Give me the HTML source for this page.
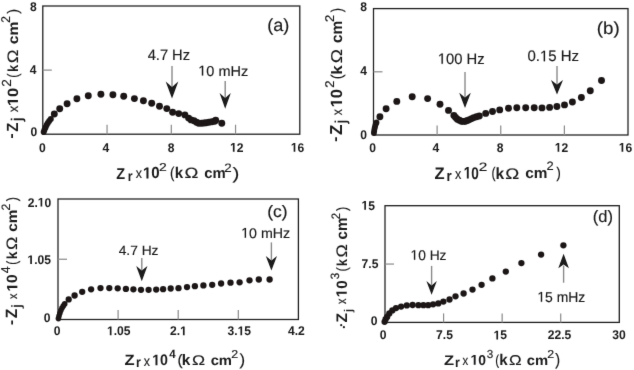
<!DOCTYPE html>
<html><head><meta charset="utf-8"><style>
html,body{margin:0;padding:0;background:#fff;overflow:hidden;}
svg{display:block;}
text{font-family:"Liberation Sans",sans-serif;text-rendering:geometricPrecision;}
</style></head><body>
<svg width="634" height="370" viewBox="0 0 634 370">
<defs><filter id="bl" x="0" y="0" width="100%" height="100%" filterUnits="userSpaceOnUse"><feConvolveMatrix order="3" kernelMatrix="0.0052 0.0619 0.0052 0.0619 0.7314 0.0619 0.0052 0.0619 0.0052" edgeMode="duplicate" preserveAlpha="false"/></filter></defs><rect width="634" height="370" fill="#fff"/>
<g filter="url(#bl)">
<rect x="42.80" y="6.00" width="257.00" height="128.20" fill="none" stroke="#222222" stroke-width="1.30"/>
<line x1="107.05" y1="134.20" x2="107.05" y2="124.70" stroke="#8a8a8a" stroke-width="1.20"/>
<line x1="171.30" y1="134.20" x2="171.30" y2="124.70" stroke="#8a8a8a" stroke-width="1.20"/>
<line x1="235.55" y1="134.20" x2="235.55" y2="124.70" stroke="#8a8a8a" stroke-width="1.20"/>
<line x1="42.80" y1="70.10" x2="51.80" y2="70.10" stroke="#8a8a8a" stroke-width="1.20"/>
<text transform="translate(29.94 10.95) scale(0.960 1)" font-size="12.60" font-weight="bold" fill="#1a1a1a">8</text>
<text transform="translate(29.78 73.88) scale(0.960 1)" font-size="12.60" font-weight="bold" fill="#1a1a1a">4</text>
<text transform="translate(30.44 135.55) scale(0.960 1)" font-size="12.60" font-weight="bold" fill="#1a1a1a">0</text>
<text transform="translate(38.94 151.65) scale(0.960 1)" font-size="12.60" font-weight="bold" fill="#1a1a1a">0</text>
<text transform="translate(102.58 151.78) scale(0.960 1)" font-size="12.60" font-weight="bold" fill="#1a1a1a">4</text>
<text transform="translate(167.64 151.65) scale(0.960 1)" font-size="12.60" font-weight="bold" fill="#1a1a1a">8</text>
<text transform="translate(230.07 151.78) scale(0.960 1)" font-size="12.60" font-weight="bold" fill="#1a1a1a"> 2</text>
<path transform="translate(230.07 151.78) scale(0.960 1) translate(0.000 0) scale(0.00615 -0.00615)" d="M478 0L478 1170L140 959L140 1180L493 1409L759 1409L759 0Z" fill="#1a1a1a"/>
<text transform="translate(290.84 151.65) scale(0.960 1)" font-size="12.60" font-weight="bold" fill="#1a1a1a"> 6</text>
<path transform="translate(290.84 151.65) scale(0.960 1) translate(0.000 0) scale(0.00615 -0.00615)" d="M478 0L478 1170L140 959L140 1180L493 1409L759 1409L759 0Z" fill="#1a1a1a"/>
<circle cx="43.7" cy="132.0" r="3.00" fill="#1b1818"/>
<circle cx="44.5" cy="129.7" r="3.00" fill="#1b1818"/>
<circle cx="45.5" cy="127.4" r="3.00" fill="#1b1818"/>
<circle cx="46.6" cy="125.1" r="3.00" fill="#1b1818"/>
<circle cx="47.8" cy="122.9" r="3.00" fill="#1b1818"/>
<circle cx="49.2" cy="120.9" r="3.00" fill="#1b1818"/>
<circle cx="50.8" cy="118.9" r="3.00" fill="#1b1818"/>
<circle cx="54.3" cy="114.0" r="3.45" fill="#1b1818"/>
<circle cx="59.7" cy="108.8" r="3.45" fill="#1b1818"/>
<circle cx="67.1" cy="103.7" r="3.45" fill="#1b1818"/>
<circle cx="76.9" cy="98.8" r="3.45" fill="#1b1818"/>
<circle cx="88.3" cy="95.8" r="3.45" fill="#1b1818"/>
<circle cx="100.9" cy="94.3" r="3.45" fill="#1b1818"/>
<circle cx="112.9" cy="94.7" r="3.45" fill="#1b1818"/>
<circle cx="123.7" cy="96.2" r="3.45" fill="#1b1818"/>
<circle cx="134.4" cy="98.6" r="3.45" fill="#1b1818"/>
<circle cx="143.4" cy="100.7" r="3.45" fill="#1b1818"/>
<circle cx="151.7" cy="103.2" r="3.45" fill="#1b1818"/>
<circle cx="159.5" cy="106.2" r="3.45" fill="#1b1818"/>
<circle cx="166.8" cy="108.6" r="3.45" fill="#1b1818"/>
<circle cx="172.6" cy="112.2" r="3.45" fill="#1b1818"/>
<circle cx="178.7" cy="113.6" r="3.45" fill="#1b1818"/>
<circle cx="184.9" cy="114.9" r="3.45" fill="#1b1818"/>
<circle cx="188.6" cy="118.1" r="3.45" fill="#1b1818"/>
<circle cx="191.1" cy="119.9" r="3.45" fill="#1b1818"/>
<circle cx="194.0" cy="120.8" r="3.45" fill="#1b1818"/>
<circle cx="196.5" cy="122.3" r="3.45" fill="#1b1818"/>
<circle cx="198.7" cy="123.2" r="3.45" fill="#1b1818"/>
<circle cx="201.5" cy="123.3" r="3.45" fill="#1b1818"/>
<circle cx="204.0" cy="123.0" r="3.45" fill="#1b1818"/>
<circle cx="206.2" cy="122.7" r="3.45" fill="#1b1818"/>
<circle cx="209.0" cy="122.3" r="3.45" fill="#1b1818"/>
<circle cx="212.0" cy="121.8" r="3.45" fill="#1b1818"/>
<circle cx="214.7" cy="121.3" r="3.45" fill="#1b1818"/>
<circle cx="215.7" cy="120.3" r="3.45" fill="#1b1818"/>
<circle cx="221.8" cy="123.2" r="3.45" fill="#1b1818"/>
<line x1="172.00" y1="66.00" x2="172.00" y2="87.00" stroke="#8a8a8a" stroke-width="1.40"/>
<path d="M172.00 98.40 L165.70 81.50 L172.00 87.00 L178.30 81.50 Z" fill="#1a1a1a"/>
<line x1="225.20" y1="81.00" x2="225.20" y2="98.00" stroke="#8a8a8a" stroke-width="1.40"/>
<path d="M225.20 108.70 L219.60 93.00 L225.20 98.00 L230.80 93.00 Z" fill="#1a1a1a"/>
<text transform="translate(147.63 60.18) scale(0.979 1)" font-size="15.01" font-weight="normal" fill="#1a1a1a" stroke="#1a1a1a" stroke-width="0.15">4.7 Hz</text>
<text transform="translate(198.23 75.54) scale(1.016 1)" font-size="14.31" font-weight="normal" fill="#1a1a1a" stroke="#1a1a1a" stroke-width="0.15"> 0 mHz</text>
<path transform="translate(198.23 75.54) scale(1.016 1) translate(0.000 0) scale(0.00699 -0.00699)" d="M515 0L515 1237L197 1010L197 1180L530 1409L696 1409L696 0Z" fill="#1a1a1a" stroke="#1a1a1a" stroke-width="21.5" stroke-linejoin="round"/>
<text transform="translate(267.13 30.51) scale(1.037 1)" font-size="17.50" font-weight="normal" fill="#1a1a1a" stroke="#1a1a1a" stroke-width="0.15">(a)</text>
<rect x="373.50" y="8.60" width="254.50" height="126.40" fill="none" stroke="#222222" stroke-width="1.30"/>
<line x1="437.12" y1="135.00" x2="437.12" y2="125.50" stroke="#8a8a8a" stroke-width="1.20"/>
<line x1="500.75" y1="135.00" x2="500.75" y2="125.50" stroke="#8a8a8a" stroke-width="1.20"/>
<line x1="564.38" y1="135.00" x2="564.38" y2="125.50" stroke="#8a8a8a" stroke-width="1.20"/>
<line x1="373.50" y1="71.80" x2="382.50" y2="71.80" stroke="#8a8a8a" stroke-width="1.20"/>
<text transform="translate(360.24 10.55) scale(0.960 1)" font-size="12.60" font-weight="bold" fill="#1a1a1a">8</text>
<text transform="translate(360.18 75.28) scale(0.960 1)" font-size="12.60" font-weight="bold" fill="#1a1a1a">4</text>
<text transform="translate(360.24 138.65) scale(0.960 1)" font-size="12.60" font-weight="bold" fill="#1a1a1a">0</text>
<text transform="translate(369.14 151.65) scale(0.960 1)" font-size="12.60" font-weight="bold" fill="#1a1a1a">0</text>
<text transform="translate(432.58 151.78) scale(0.960 1)" font-size="12.60" font-weight="bold" fill="#1a1a1a">4</text>
<text transform="translate(496.74 151.65) scale(0.960 1)" font-size="12.60" font-weight="bold" fill="#1a1a1a">8</text>
<text transform="translate(554.77 151.78) scale(0.960 1)" font-size="12.60" font-weight="bold" fill="#1a1a1a"> 2</text>
<path transform="translate(554.77 151.78) scale(0.960 1) translate(0.000 0) scale(0.00615 -0.00615)" d="M478 0L478 1170L140 959L140 1180L493 1409L759 1409L759 0Z" fill="#1a1a1a"/>
<text transform="translate(618.74 151.65) scale(0.960 1)" font-size="12.60" font-weight="bold" fill="#1a1a1a"> 6</text>
<path transform="translate(618.74 151.65) scale(0.960 1) translate(0.000 0) scale(0.00615 -0.00615)" d="M478 0L478 1170L140 959L140 1180L493 1409L759 1409L759 0Z" fill="#1a1a1a"/>
<circle cx="373.9" cy="133.0" r="2.90" fill="#1b1818"/>
<circle cx="374.2" cy="130.7" r="2.90" fill="#1b1818"/>
<circle cx="374.6" cy="128.4" r="2.90" fill="#1b1818"/>
<circle cx="375.1" cy="126.3" r="2.90" fill="#1b1818"/>
<circle cx="375.7" cy="124.3" r="2.90" fill="#1b1818"/>
<circle cx="376.5" cy="122.5" r="2.90" fill="#1b1818"/>
<circle cx="379.9" cy="116.8" r="3.45" fill="#1b1818"/>
<circle cx="386.1" cy="108.7" r="3.45" fill="#1b1818"/>
<circle cx="396.8" cy="101.4" r="3.45" fill="#1b1818"/>
<circle cx="412.2" cy="96.8" r="3.45" fill="#1b1818"/>
<circle cx="427.6" cy="98.6" r="3.45" fill="#1b1818"/>
<circle cx="440.0" cy="104.3" r="3.45" fill="#1b1818"/>
<circle cx="448.5" cy="110.4" r="3.45" fill="#1b1818"/>
<circle cx="453.9" cy="115.4" r="3.45" fill="#1b1818"/>
<circle cx="455.6" cy="117.4" r="3.45" fill="#1b1818"/>
<circle cx="457.3" cy="119.2" r="3.45" fill="#1b1818"/>
<circle cx="459.3" cy="120.3" r="3.45" fill="#1b1818"/>
<circle cx="461.4" cy="121.2" r="3.45" fill="#1b1818"/>
<circle cx="463.4" cy="121.4" r="3.45" fill="#1b1818"/>
<circle cx="465.4" cy="121.2" r="3.45" fill="#1b1818"/>
<circle cx="467.5" cy="120.5" r="3.45" fill="#1b1818"/>
<circle cx="469.5" cy="119.6" r="3.45" fill="#1b1818"/>
<circle cx="471.7" cy="118.6" r="3.45" fill="#1b1818"/>
<circle cx="473.8" cy="117.6" r="3.45" fill="#1b1818"/>
<circle cx="476.5" cy="116.8" r="3.45" fill="#1b1818"/>
<circle cx="479.3" cy="116.0" r="3.45" fill="#1b1818"/>
<circle cx="485.7" cy="113.4" r="3.45" fill="#1b1818"/>
<circle cx="492.5" cy="111.5" r="3.45" fill="#1b1818"/>
<circle cx="499.7" cy="109.9" r="3.45" fill="#1b1818"/>
<circle cx="508.5" cy="108.2" r="3.45" fill="#1b1818"/>
<circle cx="516.8" cy="107.7" r="3.45" fill="#1b1818"/>
<circle cx="525.7" cy="107.7" r="3.45" fill="#1b1818"/>
<circle cx="534.2" cy="107.7" r="3.45" fill="#1b1818"/>
<circle cx="542.0" cy="107.9" r="3.45" fill="#1b1818"/>
<circle cx="549.6" cy="107.4" r="3.45" fill="#1b1818"/>
<circle cx="556.9" cy="106.5" r="3.45" fill="#1b1818"/>
<circle cx="564.5" cy="104.9" r="3.45" fill="#1b1818"/>
<circle cx="572.4" cy="102.0" r="3.45" fill="#1b1818"/>
<circle cx="581.4" cy="97.5" r="3.45" fill="#1b1818"/>
<circle cx="590.3" cy="90.7" r="3.45" fill="#1b1818"/>
<circle cx="601.5" cy="80.5" r="3.45" fill="#1b1818"/>
<line x1="465.00" y1="72.00" x2="465.00" y2="97.50" stroke="#8a8a8a" stroke-width="1.40"/>
<path d="M465.00 108.00 L459.20 92.80 L465.00 97.50 L470.80 92.80 Z" fill="#1a1a1a"/>
<line x1="557.00" y1="66.00" x2="557.00" y2="84.50" stroke="#8a8a8a" stroke-width="1.40"/>
<path d="M557.00 94.60 L551.00 80.00 L557.00 84.50 L563.00 80.00 Z" fill="#1a1a1a"/>
<text transform="translate(437.81 63.83) scale(0.986 1)" font-size="15.01" font-weight="normal" fill="#1a1a1a" stroke="#1a1a1a" stroke-width="0.15"> 00 Hz</text>
<path transform="translate(437.81 63.83) scale(0.986 1) translate(0.000 0) scale(0.00733 -0.00733)" d="M515 0L515 1237L197 1010L197 1180L530 1409L696 1409L696 0Z" fill="#1a1a1a" stroke="#1a1a1a" stroke-width="20.5" stroke-linejoin="round"/>
<text transform="translate(527.42 61.23) scale(0.990 1)" font-size="15.15" font-weight="normal" fill="#1a1a1a" stroke="#1a1a1a" stroke-width="0.15">0. 5 Hz</text>
<path transform="translate(527.42 61.23) scale(0.990 1) translate(12.639 0) scale(0.00740 -0.00740)" d="M515 0L515 1237L197 1010L197 1180L530 1409L696 1409L696 0Z" fill="#1a1a1a" stroke="#1a1a1a" stroke-width="20.3" stroke-linejoin="round"/>
<text transform="translate(596.80 33.63) scale(1.075 1)" font-size="17.39" font-weight="normal" fill="#1a1a1a" stroke="#1a1a1a" stroke-width="0.15">(b)</text>
<rect x="58.00" y="199.00" width="240.40" height="120.50" fill="none" stroke="#222222" stroke-width="1.30"/>
<line x1="118.10" y1="319.50" x2="118.10" y2="310.00" stroke="#8a8a8a" stroke-width="1.20"/>
<line x1="178.20" y1="319.50" x2="178.20" y2="310.00" stroke="#8a8a8a" stroke-width="1.20"/>
<line x1="238.30" y1="319.50" x2="238.30" y2="310.00" stroke="#8a8a8a" stroke-width="1.20"/>
<line x1="58.00" y1="259.25" x2="67.00" y2="259.25" stroke="#8a8a8a" stroke-width="1.20"/>
<text transform="translate(27.67 206.55) scale(0.960 1)" font-size="12.60" font-weight="bold" fill="#1a1a1a">2. 0</text>
<path transform="translate(27.67 206.55) scale(0.960 1) translate(10.508 0) scale(0.00615 -0.00615)" d="M478 0L478 1170L140 959L140 1180L493 1409L759 1409L759 0Z" fill="#1a1a1a"/>
<text transform="translate(27.42 264.05) scale(0.960 1)" font-size="12.60" font-weight="bold" fill="#1a1a1a"> .05</text>
<path transform="translate(27.42 264.05) scale(0.960 1) translate(0.000 0) scale(0.00615 -0.00615)" d="M478 0L478 1170L140 959L140 1180L493 1409L759 1409L759 0Z" fill="#1a1a1a"/>
<text transform="translate(43.84 322.05) scale(0.960 1)" font-size="12.60" font-weight="bold" fill="#1a1a1a">0</text>
<text transform="translate(53.64 335.15) scale(0.960 1)" font-size="12.60" font-weight="bold" fill="#1a1a1a">0</text>
<text transform="translate(107.02 335.15) scale(0.960 1)" font-size="12.60" font-weight="bold" fill="#1a1a1a"> .05</text>
<path transform="translate(107.02 335.15) scale(0.960 1) translate(0.000 0) scale(0.00615 -0.00615)" d="M478 0L478 1170L140 959L140 1180L493 1409L759 1409L759 0Z" fill="#1a1a1a"/>
<text transform="translate(170.03 335.28) scale(0.960 1)" font-size="12.60" font-weight="bold" fill="#1a1a1a">2. </text>
<path transform="translate(170.03 335.28) scale(0.960 1) translate(10.508 0) scale(0.00615 -0.00615)" d="M478 0L478 1170L140 959L140 1180L493 1409L759 1409L759 0Z" fill="#1a1a1a"/>
<text transform="translate(227.54 335.15) scale(0.960 1)" font-size="12.60" font-weight="bold" fill="#1a1a1a">3. 5</text>
<path transform="translate(227.54 335.15) scale(0.960 1) translate(10.508 0) scale(0.00615 -0.00615)" d="M478 0L478 1170L140 959L140 1180L493 1409L759 1409L759 0Z" fill="#1a1a1a"/>
<text transform="translate(287.94 335.28) scale(0.960 1)" font-size="12.60" font-weight="bold" fill="#1a1a1a">4.2</text>
<circle cx="58.4" cy="318.6" r="2.80" fill="#1b1818"/>
<circle cx="59.0" cy="316.0" r="2.80" fill="#1b1818"/>
<circle cx="59.8" cy="313.3" r="2.80" fill="#1b1818"/>
<circle cx="60.8" cy="310.6" r="2.80" fill="#1b1818"/>
<circle cx="62.0" cy="308.1" r="2.80" fill="#1b1818"/>
<circle cx="63.3" cy="305.9" r="2.80" fill="#1b1818"/>
<circle cx="64.7" cy="303.9" r="2.80" fill="#1b1818"/>
<circle cx="68.7" cy="299.4" r="3.15" fill="#1b1818"/>
<circle cx="74.6" cy="295.5" r="3.15" fill="#1b1818"/>
<circle cx="82.2" cy="291.8" r="3.15" fill="#1b1818"/>
<circle cx="91.1" cy="289.3" r="3.15" fill="#1b1818"/>
<circle cx="100.5" cy="288.1" r="3.15" fill="#1b1818"/>
<circle cx="109.3" cy="288.1" r="3.15" fill="#1b1818"/>
<circle cx="117.7" cy="288.3" r="3.15" fill="#1b1818"/>
<circle cx="125.9" cy="288.9" r="3.15" fill="#1b1818"/>
<circle cx="133.4" cy="289.3" r="3.15" fill="#1b1818"/>
<circle cx="141.0" cy="289.8" r="3.15" fill="#1b1818"/>
<circle cx="148.6" cy="289.8" r="3.15" fill="#1b1818"/>
<circle cx="156.2" cy="289.6" r="3.15" fill="#1b1818"/>
<circle cx="163.1" cy="289.2" r="3.15" fill="#1b1818"/>
<circle cx="170.7" cy="288.5" r="3.15" fill="#1b1818"/>
<circle cx="178.5" cy="288.2" r="3.15" fill="#1b1818"/>
<circle cx="187.0" cy="287.1" r="3.15" fill="#1b1818"/>
<circle cx="194.9" cy="286.2" r="3.15" fill="#1b1818"/>
<circle cx="203.4" cy="285.4" r="3.15" fill="#1b1818"/>
<circle cx="212.2" cy="284.8" r="3.15" fill="#1b1818"/>
<circle cx="221.1" cy="283.5" r="3.15" fill="#1b1818"/>
<circle cx="230.5" cy="282.7" r="3.15" fill="#1b1818"/>
<circle cx="239.6" cy="282.3" r="3.15" fill="#1b1818"/>
<circle cx="249.5" cy="280.3" r="3.15" fill="#1b1818"/>
<circle cx="258.8" cy="279.5" r="3.15" fill="#1b1818"/>
<circle cx="269.6" cy="279.5" r="3.15" fill="#1b1818"/>
<line x1="141.80" y1="258.00" x2="141.80" y2="270.50" stroke="#8a8a8a" stroke-width="1.40"/>
<path d="M141.80 281.20 L136.20 266.10 L141.80 270.50 L147.40 266.10 Z" fill="#1a1a1a"/>
<line x1="271.40" y1="242.40" x2="271.40" y2="260.50" stroke="#8a8a8a" stroke-width="1.40"/>
<path d="M271.40 270.60 L265.80 255.90 L271.40 260.50 L277.00 255.90 Z" fill="#1a1a1a"/>
<text transform="translate(118.64 255.18) scale(1.029 1)" font-size="13.42" font-weight="normal" fill="#1a1a1a" stroke="#1a1a1a" stroke-width="0.15">4.7 Hz</text>
<text transform="translate(241.15 237.64) scale(1.015 1)" font-size="14.03" font-weight="normal" fill="#1a1a1a" stroke="#1a1a1a" stroke-width="0.15"> 0 mHz</text>
<path transform="translate(241.15 237.64) scale(1.015 1) translate(0.000 0) scale(0.00685 -0.00685)" d="M515 0L515 1237L197 1010L197 1180L530 1409L696 1409L696 0Z" fill="#1a1a1a" stroke="#1a1a1a" stroke-width="21.9" stroke-linejoin="round"/>
<text transform="translate(267.27 216.93) scale(1.064 1)" font-size="16.43" font-weight="normal" fill="#1a1a1a" stroke="#1a1a1a" stroke-width="0.15">(c)</text>
<rect x="385.00" y="205.70" width="234.30" height="116.70" fill="none" stroke="#222222" stroke-width="1.30"/>
<line x1="443.57" y1="322.40" x2="443.57" y2="313.40" stroke="#8a8a8a" stroke-width="1.20"/>
<line x1="502.15" y1="322.40" x2="502.15" y2="313.40" stroke="#8a8a8a" stroke-width="1.20"/>
<line x1="560.72" y1="322.40" x2="560.72" y2="313.40" stroke="#8a8a8a" stroke-width="1.20"/>
<line x1="385.00" y1="264.05" x2="394.00" y2="264.05" stroke="#8a8a8a" stroke-width="1.20"/>
<text transform="translate(361.48 209.75) scale(0.960 1)" font-size="12.60" font-weight="bold" fill="#1a1a1a"> 5</text>
<path transform="translate(361.48 209.75) scale(0.960 1) translate(0.000 0) scale(0.00615 -0.00615)" d="M478 0L478 1170L140 959L140 1180L493 1409L759 1409L759 0Z" fill="#1a1a1a"/>
<text transform="translate(361.60 267.65) scale(0.960 1)" font-size="12.60" font-weight="bold" fill="#1a1a1a">7.5</text>
<text transform="translate(370.84 325.05) scale(0.960 1)" font-size="12.60" font-weight="bold" fill="#1a1a1a">0</text>
<text transform="translate(379.64 339.45) scale(0.960 1)" font-size="12.60" font-weight="bold" fill="#1a1a1a">0</text>
<text transform="translate(436.10 339.45) scale(0.960 1)" font-size="12.60" font-weight="bold" fill="#1a1a1a">7.5</text>
<text transform="translate(493.58 339.45) scale(0.960 1)" font-size="12.60" font-weight="bold" fill="#1a1a1a"> 5</text>
<path transform="translate(493.58 339.45) scale(0.960 1) translate(0.000 0) scale(0.00615 -0.00615)" d="M478 0L478 1170L140 959L140 1180L493 1409L759 1409L759 0Z" fill="#1a1a1a"/>
<text transform="translate(547.78 339.45) scale(0.960 1)" font-size="12.60" font-weight="bold" fill="#1a1a1a">22.5</text>
<text transform="translate(612.28 339.45) scale(0.960 1)" font-size="12.60" font-weight="bold" fill="#1a1a1a">30</text>
<circle cx="384.6" cy="321.8" r="3.15" fill="#1b1818"/>
<circle cx="385.6" cy="319.2" r="3.15" fill="#1b1818"/>
<circle cx="387.1" cy="316.9" r="3.15" fill="#1b1818"/>
<circle cx="389.3" cy="313.5" r="3.15" fill="#1b1818"/>
<circle cx="392.3" cy="310.4" r="3.15" fill="#1b1818"/>
<circle cx="396.0" cy="308.1" r="3.15" fill="#1b1818"/>
<circle cx="401.1" cy="306.6" r="3.15" fill="#1b1818"/>
<circle cx="406.8" cy="305.4" r="3.15" fill="#1b1818"/>
<circle cx="412.6" cy="305.0" r="3.15" fill="#1b1818"/>
<circle cx="418.4" cy="305.2" r="3.15" fill="#1b1818"/>
<circle cx="423.4" cy="305.2" r="3.15" fill="#1b1818"/>
<circle cx="428.2" cy="305.2" r="3.15" fill="#1b1818"/>
<circle cx="433.1" cy="304.3" r="3.15" fill="#1b1818"/>
<circle cx="438.3" cy="303.4" r="3.15" fill="#1b1818"/>
<circle cx="443.4" cy="301.6" r="3.15" fill="#1b1818"/>
<circle cx="449.5" cy="299.5" r="3.15" fill="#1b1818"/>
<circle cx="455.5" cy="296.3" r="3.15" fill="#1b1818"/>
<circle cx="463.6" cy="293.5" r="3.15" fill="#1b1818"/>
<circle cx="472.5" cy="289.6" r="3.15" fill="#1b1818"/>
<circle cx="481.6" cy="284.8" r="3.15" fill="#1b1818"/>
<circle cx="492.4" cy="278.4" r="3.15" fill="#1b1818"/>
<circle cx="505.8" cy="271.6" r="3.15" fill="#1b1818"/>
<circle cx="521.4" cy="263.1" r="3.15" fill="#1b1818"/>
<circle cx="541.1" cy="254.6" r="3.15" fill="#1b1818"/>
<circle cx="563.4" cy="245.3" r="3.15" fill="#1b1818"/>
<line x1="431.60" y1="265.90" x2="431.60" y2="285.50" stroke="#8a8a8a" stroke-width="1.40"/>
<path d="M431.60 294.70 L426.40 281.10 L431.60 285.50 L436.80 281.10 Z" fill="#1a1a1a"/>
<line x1="563.60" y1="282.70" x2="563.60" y2="265.50" stroke="#8a8a8a" stroke-width="1.40"/>
<path d="M563.6 253.7 L558.3 268.3 L563.6 264.6 L568.9 268.3 Z" fill="#1a1a1a"/>
<text transform="translate(410.49 259.74) scale(0.993 1)" font-size="13.89" font-weight="normal" fill="#1a1a1a" stroke="#1a1a1a" stroke-width="0.15"> 0 Hz</text>
<path transform="translate(410.49 259.74) scale(0.993 1) translate(0.000 0) scale(0.00678 -0.00678)" d="M515 0L515 1237L197 1010L197 1180L530 1409L696 1409L696 0Z" fill="#1a1a1a" stroke="#1a1a1a" stroke-width="22.1" stroke-linejoin="round"/>
<text transform="translate(537.38 301.84) scale(0.967 1)" font-size="14.37" font-weight="normal" fill="#1a1a1a" stroke="#1a1a1a" stroke-width="0.15"> 5 mHz</text>
<path transform="translate(537.38 301.84) scale(0.967 1) translate(0.000 0) scale(0.00702 -0.00702)" d="M515 0L515 1237L197 1010L197 1180L530 1409L696 1409L696 0Z" fill="#1a1a1a" stroke="#1a1a1a" stroke-width="21.4" stroke-linejoin="round"/>
<text transform="translate(592.83 221.53) scale(1.005 1)" font-size="16.43" font-weight="normal" fill="#1a1a1a" stroke="#1a1a1a" stroke-width="0.15">(d)</text>
<circle cx="341.2" cy="325.2" r="1.1" fill="#222"/><circle cx="343.9" cy="327.2" r="1.1" fill="#222"/>
<text transform="translate(116.28 178.58) scale(0.931 1)" font-size="15.59" font-weight="bold" fill="#1a1a1a">Z</text>
<text transform="translate(127.71 180.58) scale(0.866 1)" font-size="14.37" font-weight="bold" fill="#1a1a1a">r</text>
<text transform="translate(135.80 178.48) scale(0.882 1)" font-size="14.08" font-weight="normal" fill="#1a1a1a" stroke="#1a1a1a" stroke-width="0.15">x</text>
<text transform="translate(142.92 178.42) scale(0.938 1)" font-size="16.00" font-weight="bold" fill="#1a1a1a"> 0</text>
<path transform="translate(142.92 178.42) scale(0.938 1) translate(0.000 0) scale(0.00781 -0.00781)" d="M478 0L478 1170L140 959L140 1180L493 1409L759 1409L759 0Z" fill="#1a1a1a"/>
<text transform="translate(159.12 170.88) scale(1.214 1)" font-size="11.51" font-weight="normal" fill="#1a1a1a" stroke="#1a1a1a" stroke-width="0.15">2</text>
<text transform="translate(170.01 178.04) scale(0.845 1)" font-size="15.89" font-weight="normal" fill="#1a1a1a" stroke="#1a1a1a" stroke-width="0.15">(</text>
<text transform="translate(174.76 178.38) scale(0.977 1)" font-size="15.53" font-weight="bold" fill="#1a1a1a">k</text>
<text transform="translate(184.58 178.38) scale(1.256 1)" font-size="14.80" font-weight="normal" fill="#1a1a1a" stroke="#1a1a1a" stroke-width="0.15">Ω</text>
<text transform="translate(204.23 178.23) scale(1.000 1)" font-size="14.84" font-weight="bold" fill="#1a1a1a">cm</text>
<text transform="translate(224.35 171.88) scale(1.089 1)" font-size="12.23" font-weight="normal" fill="#1a1a1a" stroke="#1a1a1a" stroke-width="0.15">2</text>
<text transform="translate(232.52 178.51) scale(1.246 1)" font-size="16.53" font-weight="normal" fill="#1a1a1a" stroke="#1a1a1a" stroke-width="0.15">)</text>
<text transform="translate(434.52 178.98) scale(0.994 1)" font-size="16.61" font-weight="bold" fill="#1a1a1a">Z</text>
<text transform="translate(446.55 180.63) scale(0.894 1)" font-size="15.02" font-weight="bold" fill="#1a1a1a">r</text>
<text transform="translate(454.99 178.88) scale(0.851 1)" font-size="14.83" font-weight="normal" fill="#1a1a1a" stroke="#1a1a1a" stroke-width="0.15">x</text>
<text transform="translate(463.70 178.61) scale(0.800 1)" font-size="16.99" font-weight="bold" fill="#1a1a1a"> 0</text>
<path transform="translate(463.70 178.61) scale(0.800 1) translate(0.000 0) scale(0.00829 -0.00829)" d="M478 0L478 1170L140 959L140 1180L493 1409L759 1409L759 0Z" fill="#1a1a1a"/>
<text transform="translate(478.66 170.88) scale(1.251 1)" font-size="12.23" font-weight="normal" fill="#1a1a1a" stroke="#1a1a1a" stroke-width="0.15">2</text>
<text transform="translate(491.38 178.43) scale(0.800 1)" font-size="15.47" font-weight="normal" fill="#1a1a1a" stroke="#1a1a1a" stroke-width="0.15">(</text>
<text transform="translate(495.43 178.78) scale(0.969 1)" font-size="16.08" font-weight="bold" fill="#1a1a1a">k</text>
<text transform="translate(505.17 178.78) scale(1.230 1)" font-size="15.23" font-weight="normal" fill="#1a1a1a" stroke="#1a1a1a" stroke-width="0.15">Ω</text>
<text transform="translate(525.31 178.43) scale(1.023 1)" font-size="15.02" font-weight="bold" fill="#1a1a1a">cm</text>
<text transform="translate(546.58 170.48) scale(1.066 1)" font-size="12.09" font-weight="normal" fill="#1a1a1a" stroke="#1a1a1a" stroke-width="0.15">2</text>
<text transform="translate(556.25 178.43) scale(0.893 1)" font-size="15.47" font-weight="normal" fill="#1a1a1a" stroke="#1a1a1a" stroke-width="0.15">)</text>
<text transform="translate(124.62 365.28) scale(1.110 1)" font-size="14.87" font-weight="bold" fill="#1a1a1a">Z</text>
<text transform="translate(136.01 367.48) scale(0.866 1)" font-size="14.37" font-weight="bold" fill="#1a1a1a">r</text>
<text transform="translate(143.80 365.68) scale(0.882 1)" font-size="14.08" font-weight="normal" fill="#1a1a1a" stroke="#1a1a1a" stroke-width="0.15">x</text>
<text transform="translate(152.17 365.23) scale(0.930 1)" font-size="15.30" font-weight="bold" fill="#1a1a1a"> 0</text>
<path transform="translate(152.17 365.23) scale(0.930 1) translate(0.000 0) scale(0.00747 -0.00747)" d="M478 0L478 1170L140 959L140 1180L493 1409L759 1409L759 0Z" fill="#1a1a1a"/>
<text transform="translate(169.15 358.18) scale(0.974 1)" font-size="11.83" font-weight="bold" fill="#1a1a1a">4</text>
<text transform="translate(177.40 365.42) scale(1.019 1)" font-size="15.04" font-weight="normal" fill="#1a1a1a" stroke="#1a1a1a" stroke-width="0.15">(</text>
<text transform="translate(181.74 365.28) scale(1.017 1)" font-size="15.12" font-weight="bold" fill="#1a1a1a">k</text>
<text transform="translate(192.12 365.28) scale(1.258 1)" font-size="13.94" font-weight="normal" fill="#1a1a1a" stroke="#1a1a1a" stroke-width="0.15">Ω</text>
<text transform="translate(210.63 365.14) scale(1.060 1)" font-size="13.93" font-weight="bold" fill="#1a1a1a">cm</text>
<text transform="translate(231.30 358.18) scale(1.080 1)" font-size="11.51" font-weight="normal" fill="#1a1a1a" stroke="#1a1a1a" stroke-width="0.15">2</text>
<text transform="translate(239.54 365.48) scale(1.038 1)" font-size="16.21" font-weight="normal" fill="#1a1a1a" stroke="#1a1a1a" stroke-width="0.15">)</text>
<text transform="translate(444.02 364.68) scale(1.179 1)" font-size="14.00" font-weight="bold" fill="#1a1a1a">Z</text>
<text transform="translate(455.01 366.88) scale(0.901 1)" font-size="13.81" font-weight="bold" fill="#1a1a1a">r</text>
<text transform="translate(462.51 365.38) scale(0.842 1)" font-size="13.51" font-weight="normal" fill="#1a1a1a" stroke="#1a1a1a" stroke-width="0.15">x</text>
<text transform="translate(470.48 364.74) scale(0.973 1)" font-size="14.31" font-weight="bold" fill="#1a1a1a"> 0</text>
<path transform="translate(470.48 364.74) scale(0.973 1) translate(0.000 0) scale(0.00699 -0.00699)" d="M478 0L478 1170L140 959L140 1180L493 1409L759 1409L759 0Z" fill="#1a1a1a"/>
<text transform="translate(486.85 358.46) scale(1.006 1)" font-size="11.63" font-weight="normal" fill="#1a1a1a" stroke="#1a1a1a" stroke-width="0.15">3</text>
<text transform="translate(495.32 365.23) scale(0.800 1)" font-size="14.50" font-weight="normal" fill="#1a1a1a" stroke="#1a1a1a" stroke-width="0.15">(</text>
<text transform="translate(499.16 365.08) scale(0.968 1)" font-size="15.67" font-weight="bold" fill="#1a1a1a">k</text>
<text transform="translate(508.94 365.08) scale(1.190 1)" font-size="14.23" font-weight="normal" fill="#1a1a1a" stroke="#1a1a1a" stroke-width="0.15">Ω</text>
<text transform="translate(526.83 364.94) scale(1.074 1)" font-size="13.75" font-weight="bold" fill="#1a1a1a">cm</text>
<text transform="translate(547.20 358.18) scale(1.080 1)" font-size="11.51" font-weight="normal" fill="#1a1a1a" stroke="#1a1a1a" stroke-width="0.15">2</text>
<text transform="translate(555.15 365.03) scale(0.887 1)" font-size="16.43" font-weight="normal" fill="#1a1a1a" stroke="#1a1a1a" stroke-width="0.15">)</text>
<text transform="translate(15.78 138.38) rotate(-90) scale(1.000 1)" font-size="15.00" font-weight="bold" fill="#1a1a1a">-</text>
<text transform="translate(18.08 131.63) rotate(-90) scale(0.920 1)" font-size="16.17" font-weight="bold" fill="#1a1a1a">Z</text>
<text transform="translate(22.45 121.25) rotate(-90) scale(1.107 1)" font-size="15.36" font-weight="normal" fill="#1a1a1a" stroke="#1a1a1a" stroke-width="0.15">j</text>
<text transform="translate(17.68 112.21) rotate(-90) scale(0.937 1)" font-size="13.70" font-weight="normal" fill="#1a1a1a" stroke="#1a1a1a" stroke-width="0.15">x</text>
<text transform="translate(17.93 106.17) rotate(-90) scale(1.109 1)" font-size="14.87" font-weight="bold" fill="#1a1a1a"> 0</text>
<path transform="translate(17.93 106.17) rotate(-90) scale(1.109 1) translate(0.000 0) scale(0.00726 -0.00726)" d="M478 0L478 1170L140 959L140 1180L493 1409L759 1409L759 0Z" fill="#1a1a1a"/>
<text transform="translate(10.68 86.76) rotate(-90) scale(1.035 1)" font-size="13.09" font-weight="normal" fill="#1a1a1a" stroke="#1a1a1a" stroke-width="0.15">2</text>
<text transform="translate(17.58 77.76) rotate(-90) scale(0.856 1)" font-size="15.25" font-weight="normal" fill="#1a1a1a" stroke="#1a1a1a" stroke-width="0.15">(</text>
<text transform="translate(17.88 72.08) rotate(-90) scale(0.886 1)" font-size="14.57" font-weight="bold" fill="#1a1a1a">k</text>
<text transform="translate(17.88 63.22) rotate(-90) scale(1.222 1)" font-size="15.09" font-weight="normal" fill="#1a1a1a" stroke="#1a1a1a" stroke-width="0.15">Ω</text>
<text transform="translate(17.94 44.31) rotate(-90) scale(1.115 1)" font-size="14.11" font-weight="bold" fill="#1a1a1a">cm</text>
<text transform="translate(10.38 22.68) rotate(-90) scale(0.948 1)" font-size="12.66" font-weight="normal" fill="#1a1a1a" stroke="#1a1a1a" stroke-width="0.15">2</text>
<text transform="translate(17.58 13.75) rotate(-90) scale(0.955 1)" font-size="15.25" font-weight="normal" fill="#1a1a1a" stroke="#1a1a1a" stroke-width="0.15">)</text>
<text transform="translate(339.88 141.78) rotate(-90) scale(1.000 1)" font-size="15.00" font-weight="bold" fill="#1a1a1a">-</text>
<text transform="translate(342.38 134.99) rotate(-90) scale(0.983 1)" font-size="17.33" font-weight="bold" fill="#1a1a1a">Z</text>
<text transform="translate(346.09 123.44) rotate(-90) scale(1.120 1)" font-size="15.68" font-weight="normal" fill="#1a1a1a" stroke="#1a1a1a" stroke-width="0.15">j</text>
<text transform="translate(341.78 115.20) rotate(-90) scale(0.879 1)" font-size="13.89" font-weight="normal" fill="#1a1a1a" stroke="#1a1a1a" stroke-width="0.15">x</text>
<text transform="translate(342.02 107.48) rotate(-90) scale(1.019 1)" font-size="16.28" font-weight="bold" fill="#1a1a1a"> 0</text>
<path transform="translate(342.02 107.48) rotate(-90) scale(1.019 1) translate(0.000 0) scale(0.00795 -0.00795)" d="M478 0L478 1170L140 959L140 1180L493 1409L759 1409L759 0Z" fill="#1a1a1a"/>
<text transform="translate(334.08 87.72) rotate(-90) scale(1.018 1)" font-size="12.66" font-weight="normal" fill="#1a1a1a" stroke="#1a1a1a" stroke-width="0.15">2</text>
<text transform="translate(341.59 79.13) rotate(-90) scale(0.905 1)" font-size="15.68" font-weight="normal" fill="#1a1a1a" stroke="#1a1a1a" stroke-width="0.15">(</text>
<text transform="translate(341.88 74.66) rotate(-90) scale(1.113 1)" font-size="15.12" font-weight="bold" fill="#1a1a1a">k</text>
<text transform="translate(341.88 63.25) rotate(-90) scale(1.226 1)" font-size="15.66" font-weight="normal" fill="#1a1a1a" stroke="#1a1a1a" stroke-width="0.15">Ω</text>
<text transform="translate(342.02 43.00) rotate(-90) scale(0.992 1)" font-size="15.56" font-weight="bold" fill="#1a1a1a">cm</text>
<text transform="translate(334.08 22.12) rotate(-90) scale(1.018 1)" font-size="12.66" font-weight="normal" fill="#1a1a1a" stroke="#1a1a1a" stroke-width="0.15">2</text>
<text transform="translate(341.59 12.34) rotate(-90) scale(0.800 1)" font-size="15.68" font-weight="normal" fill="#1a1a1a" stroke="#1a1a1a" stroke-width="0.15">)</text>
<text transform="translate(15.68 325.08) rotate(-90) scale(1.000 1)" font-size="15.00" font-weight="bold" fill="#1a1a1a">-</text>
<text transform="translate(17.48 318.14) rotate(-90) scale(0.945 1)" font-size="16.32" font-weight="bold" fill="#1a1a1a">Z</text>
<text transform="translate(21.36 307.94) rotate(-90) scale(1.300 1)" font-size="13.43" font-weight="normal" fill="#1a1a1a" stroke="#1a1a1a" stroke-width="0.15">j</text>
<text transform="translate(16.78 298.89) rotate(-90) scale(0.869 1)" font-size="12.38" font-weight="normal" fill="#1a1a1a" stroke="#1a1a1a" stroke-width="0.15">x</text>
<text transform="translate(17.33 291.61) rotate(-90) scale(1.042 1)" font-size="14.87" font-weight="bold" fill="#1a1a1a"> 0</text>
<path transform="translate(17.33 291.61) rotate(-90) scale(1.042 1) translate(0.000 0) scale(0.00726 -0.00726)" d="M478 0L478 1170L140 959L140 1180L493 1409L759 1409L759 0Z" fill="#1a1a1a"/>
<text transform="translate(9.98 273.32) rotate(-90) scale(0.950 1)" font-size="12.84" font-weight="normal" fill="#1a1a1a" stroke="#1a1a1a" stroke-width="0.15">4</text>
<text transform="translate(17.04 264.70) rotate(-90) scale(0.800 1)" font-size="14.93" font-weight="normal" fill="#1a1a1a" stroke="#1a1a1a" stroke-width="0.15">(</text>
<text transform="translate(17.48 259.24) rotate(-90) scale(0.943 1)" font-size="14.57" font-weight="bold" fill="#1a1a1a">k</text>
<text transform="translate(17.48 249.89) rotate(-90) scale(1.182 1)" font-size="15.09" font-weight="normal" fill="#1a1a1a" stroke="#1a1a1a" stroke-width="0.15">Ω</text>
<text transform="translate(17.34 231.69) rotate(-90) scale(1.089 1)" font-size="14.11" font-weight="bold" fill="#1a1a1a">cm</text>
<text transform="translate(9.98 210.39) rotate(-90) scale(1.011 1)" font-size="12.09" font-weight="normal" fill="#1a1a1a" stroke="#1a1a1a" stroke-width="0.15">2</text>
<text transform="translate(17.04 201.35) rotate(-90) scale(0.874 1)" font-size="14.93" font-weight="normal" fill="#1a1a1a" stroke="#1a1a1a" stroke-width="0.15">)</text>
<text transform="translate(347.18 322.54) rotate(-90) scale(1.008 1)" font-size="15.30" font-weight="bold" fill="#1a1a1a">Z</text>
<text transform="translate(351.65 312.02) rotate(-90) scale(1.300 1)" font-size="11.08" font-weight="normal" fill="#1a1a1a" stroke="#1a1a1a" stroke-width="0.15">j</text>
<text transform="translate(346.48 303.89) rotate(-90) scale(0.800 1)" font-size="13.51" font-weight="normal" fill="#1a1a1a" stroke="#1a1a1a" stroke-width="0.15">x</text>
<text transform="translate(346.73 297.29) rotate(-90) scale(1.013 1)" font-size="15.01" font-weight="bold" fill="#1a1a1a"> 0</text>
<path transform="translate(346.73 297.29) rotate(-90) scale(1.013 1) translate(0.000 0) scale(0.00733 -0.00733)" d="M478 0L478 1170L140 959L140 1180L493 1409L759 1409L759 0Z" fill="#1a1a1a"/>
<text transform="translate(338.96 279.24) rotate(-90) scale(0.953 1)" font-size="12.06" font-weight="normal" fill="#1a1a1a" stroke="#1a1a1a" stroke-width="0.15">3</text>
<text transform="translate(346.74 271.46) rotate(-90) scale(0.874 1)" font-size="14.93" font-weight="normal" fill="#1a1a1a" stroke="#1a1a1a" stroke-width="0.15">(</text>
<text transform="translate(347.08 266.28) rotate(-90) scale(0.895 1)" font-size="14.43" font-weight="bold" fill="#1a1a1a">k</text>
<text transform="translate(347.08 257.49) rotate(-90) scale(1.171 1)" font-size="15.23" font-weight="normal" fill="#1a1a1a" stroke="#1a1a1a" stroke-width="0.15">Ω</text>
<text transform="translate(347.12 239.48) rotate(-90) scale(0.968 1)" font-size="15.56" font-weight="bold" fill="#1a1a1a">cm</text>
<text transform="translate(339.78 219.35) rotate(-90) scale(0.927 1)" font-size="12.23" font-weight="normal" fill="#1a1a1a" stroke="#1a1a1a" stroke-width="0.15">2</text>
<text transform="translate(346.74 211.05) rotate(-90) scale(0.874 1)" font-size="14.93" font-weight="normal" fill="#1a1a1a" stroke="#1a1a1a" stroke-width="0.15">)</text>
</g>
</svg>
</body></html>
